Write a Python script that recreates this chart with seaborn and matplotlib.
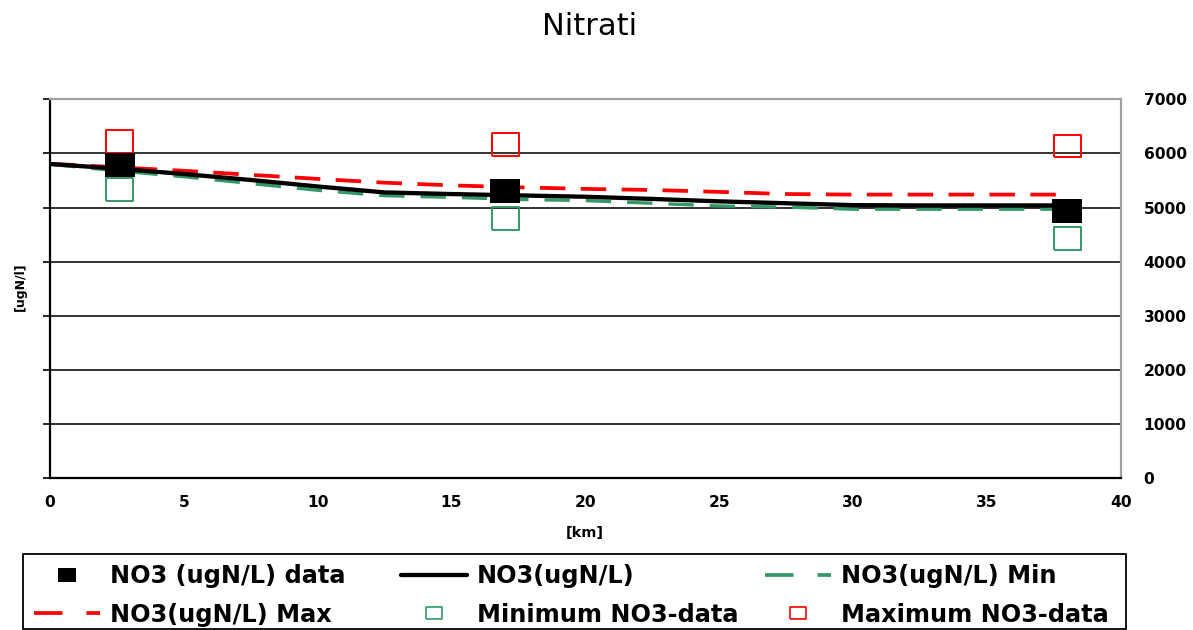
import numpy as np
import pandas as pd
import matplotlib
matplotlib.use("Agg")
import matplotlib.pyplot as plt
from matplotlib.lines import Line2D
from matplotlib.patches import Rectangle
import seaborn as sns

# ---- model profiles along the river (km) ----
km = [0, 2.5, 5, 7.5, 10, 12.5, 15, 17.5, 20, 22.5, 25, 27.5, 30, 32.5, 35, 38]
no3 = [5805, 5720, 5620, 5510, 5390, 5280, 5250, 5225, 5200, 5160, 5115, 5080, 5045, 5040, 5040, 5040]
no3_max = [5810, 5745, 5680, 5605, 5530, 5460, 5410, 5375, 5345, 5325, 5290, 5250, 5240, 5240, 5240, 5240]
no3_min = [5800, 5680, 5570, 5445, 5320, 5220, 5190, 5150, 5130, 5080, 5030, 5010, 4970, 4970, 4970, 4970]

# ---- measured data at the stations ----
station_km = [2.6, 17, 38]
obs_mean = [5790, 5300, 4935]
obs_min = [5330, 4800, 4430]
obs_max = [6220, 6170, 6135]

y_ticks = [0, 1000, 2000, 3000, 4000, 5000, 6000, 7000]
x_ticks = [0, 5, 10, 15, 20, 25, 30, 35, 40]

W, H = 1193, 630
sns.set_style("white")
plt.rcParams["font.family"] = ["DejaVu Sans"]
plt.rcParams["text.color"] = "black"
plt.rcParams["xtick.color"] = "black"
plt.rcParams["ytick.color"] = "black"
plt.rcParams["axes.labelcolor"] = "black"

fig = plt.figure(figsize=(W / 100, H / 100), dpi=100)
ax = fig.add_axes([50 / W, (H - 478.3) / H, 1070.7 / W, 379 / H])

# slightly wide rectangle used for all square markers
rect = [(-0.6, -0.5), (0.6, -0.5), (0.6, 0.5), (-0.6, 0.5), (-0.6, -0.5)]

red = "#FF0000"
green = "#339966"

lines = pd.DataFrame({"km": km, "mean": no3, "max": no3_max, "min": no3_min})
sns.lineplot(data=lines, x="km", y="min", ax=ax, color=green, lw=2.4,
             linestyle=(0, (7.6, 4.8)), zorder=3)
sns.lineplot(data=lines, x="km", y="max", ax=ax, color=red, lw=2.7,
             linestyle=(0, (6.8, 4.1)), zorder=3)
sns.lineplot(data=lines, x="km", y="mean", ax=ax, color="black", lw=3.1,
             zorder=4)

sns.scatterplot(x=station_km, y=obs_min, ax=ax, marker=rect, s=380,
                color=green, facecolor="none", edgecolor=green,
                linewidth=1.4, zorder=5)
sns.scatterplot(x=station_km, y=obs_max, ax=ax, marker=rect, s=380,
                color=red, facecolor="none", edgecolor=red,
                linewidth=1.4, zorder=5)
sns.scatterplot(x=station_km, y=obs_mean, ax=ax, marker=rect, s=436,
                color="black", edgecolor="black", linewidth=0, zorder=6)

ax.set_xlim(0, 40)
ax.set_ylim(0, 7000)
ax.set_xlabel("")
ax.set_ylabel("")
ax.set_xticks(x_ticks)
ax.set_xticks(np.arange(0, 41, 1), minor=True)
ax.set_yticks(y_ticks)
ax.set_xticklabels([str(t) for t in x_ticks], fontweight="bold", fontsize=11.2)
ax.set_yticklabels([str(t) for t in y_ticks], fontweight="bold", fontsize=11.2)

ax.tick_params(axis="x", which="major", direction="in", length=3.2, width=1.2,
               color="black", pad=12)
ax.tick_params(axis="x", which="minor", direction="in", length=2.2, width=1.2,
               color="black")
ax.tick_params(axis="y", direction="out", length=5, width=1.2, color="black",
               left=True, right=False, labelleft=False, labelright=True, pad=11.5)

for yv in y_ticks[1:-1]:
    ax.axhline(yv, color="#111111", lw=1.2, zorder=1)

for side in ["left", "bottom"]:
    ax.spines[side].set_color("black")
    ax.spines[side].set_linewidth(1.6)
for side in ["top", "right"]:
    ax.spines[side].set_color("#a0a0a0")
    ax.spines[side].set_linewidth(1.6)

fig.text(590 / W, 1 - 35 / H, "Nitrati", ha="center", va="baseline", fontsize=22)
fig.text(585 / W, 1 - 532.7 / H, "[km]", ha="center", va="center",
         fontsize=10.4, fontweight="bold")
fig.text(20 / W, 1 - 287 / H, "[ugN/l]", ha="center", va="center",
         rotation=90, fontsize=9, fontweight="bold")

# ---- legend: three columns inside a single frame ----
fs = 17.3
fpx = fs / 0.72
h_data = Line2D([], [], ls="none", marker=rect, ms=12.5, color="black", mec="black", mew=0)
h_mean = Line2D([], [], color="black", lw=3.1)
h_min = Line2D([], [], color=green, lw=2.7, linestyle=(0, (7.6, 6.4)))
h_max = Line2D([], [], color=red, lw=2.7, linestyle=(0, (7.6, 6.4)))
h_dmin = Line2D([], [], ls="none", marker=rect, ms=11, mfc="none", mec=green, mew=1.2)
h_dmax = Line2D([], [], ls="none", marker=rect, ms=11, mfc="none", mec=red, mew=1.2)

columns = [
    (34, [h_data, h_max], ["NO3 (ugN/L) data", "NO3(ugN/L) Max"]),
    (401, [h_mean, h_dmin], ["NO3(ugN/L)", "Minimum NO3-data"]),
    (765, [h_min, h_dmax], ["NO3(ugN/L) Min", "Maximum NO3-data"]),
]
for x0, hs, labs in columns:
    fig.legend(hs, labs, loc="upper left", bbox_to_anchor=(x0 / W, 1 - 564 / H),
               frameon=False, ncol=1, borderpad=0, borderaxespad=0,
               handlelength=66 / fpx, handletextpad=10 / fpx, labelspacing=0.62,
               prop={"weight": "bold", "size": fs})

fig.patches.append(Rectangle((22.7 / W, 1.5 / H), (1126 - 22.7) / W, (628.5 - 554) / H,
                             transform=fig.transFigure, fill=False,
                             edgecolor="black", lw=1.3))

fig.savefig("out.png", dpi=100)
